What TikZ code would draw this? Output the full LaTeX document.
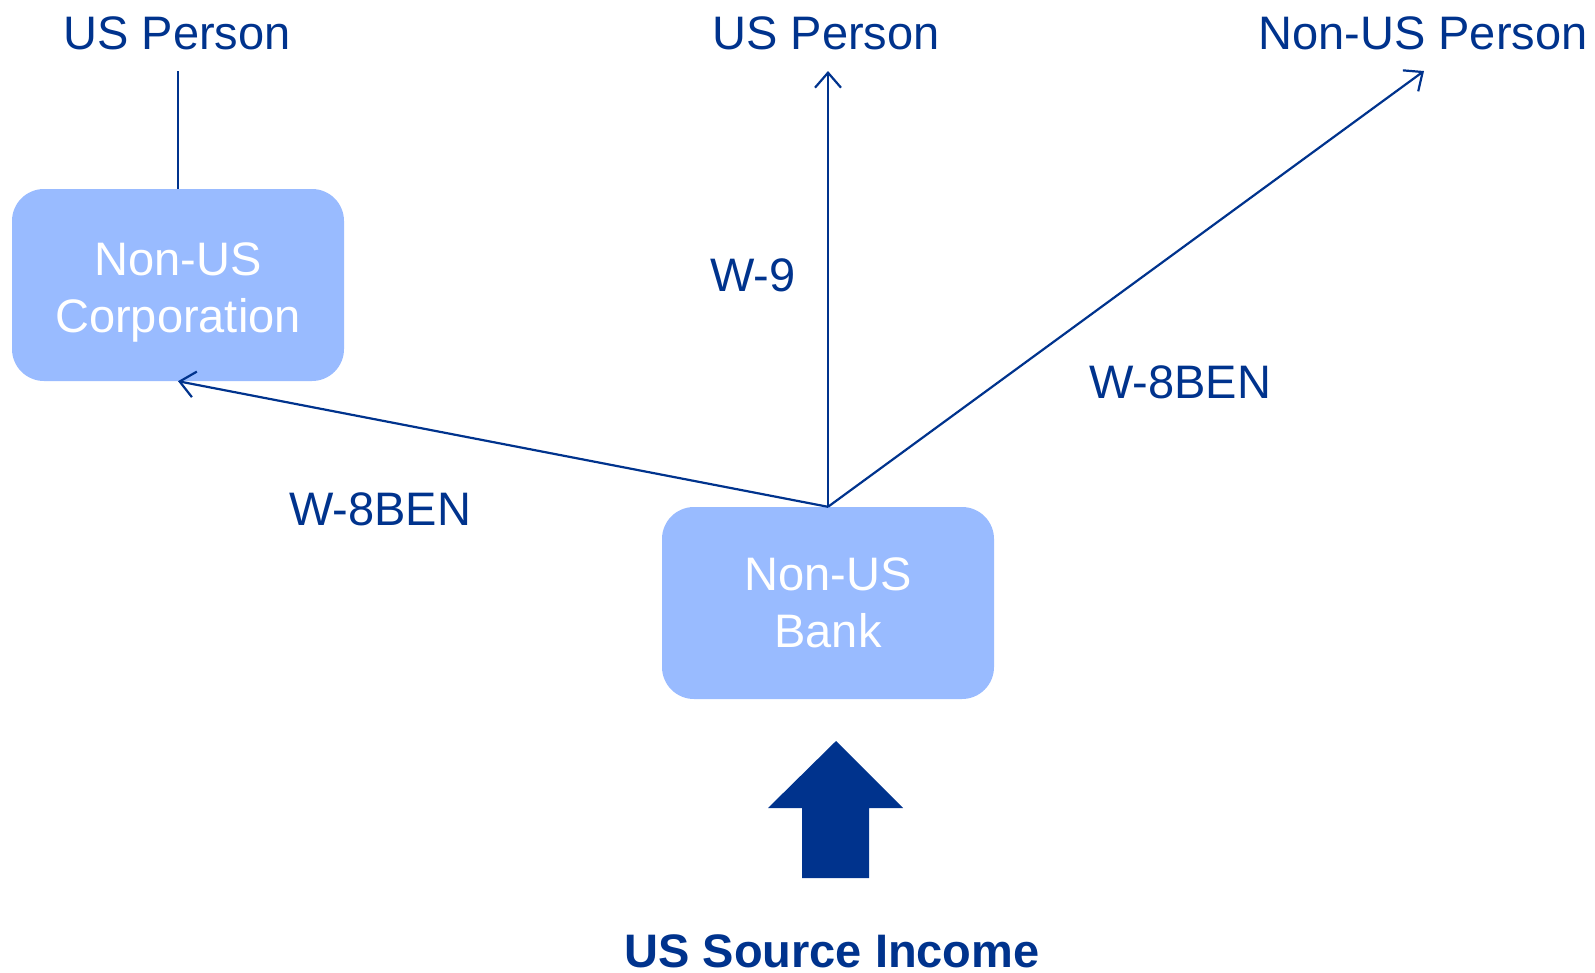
\documentclass[tikz,border=0pt]{standalone}
\usepackage{fontspec}
\setmainfont{Liberation Sans}
\usetikzlibrary{arrows.meta}
\definecolor{navy}{RGB}{0,51,141}
\definecolor{boxblue}{RGB}{153,187,255}
\begin{document}
\begin{tikzpicture}[x=1pt,y=-1pt,
  lbl/.style={text=navy,font=\fontsize{47}{57}\selectfont,inner sep=0pt},
  entity/.style={fill=boxblue,rounded corners=32pt,minimum width=332pt,minimum height=192pt,
     text=white,align=center,font=\fontsize{47}{57}\selectfont,inner sep=0pt},
  boxtxt/.style={text=white,align=center,font=\fontsize{47}{57}\selectfont,inner sep=0pt},
  conn/.style={draw=navy,line width=2.2pt},
  arr/.style={conn,-{Straight Barb[length=15pt,width=26pt]}}]
\useasboundingbox (0,0) rectangle (1595,972);
% labels
\node[lbl] (usp1) at (177,33) {US Person};
\node[lbl] (usp2) at (826,33) {US Person};
\node[lbl] (nusp) at (1423,33) {Non-US Person};
\node[lbl] (w9) at (753,275) {W-9};
\node[lbl] (w8r) at (1180,382) {W-8BEN};
\node[lbl] (w8l) at (380,509) {W-8BEN};
% boxes
\node[entity] (corp) at (178,285) {};
\node[boxtxt] (corptxt) at ([yshift=-7pt]corp.center) {Non-US\\Corporation};
\node[entity] (bank) at (828,603) {Non-US\\Bank};
% endpoints
\coordinate (e1) at (178,71);
\coordinate (e2) at (828,71);
\coordinate (e3) at (1424,71);
% connectors
\draw[conn] (corp.north) -- (e1);
\draw[arr] (bank.north) -- (e2);
\draw[arr] (bank.north) -- (e3);
\draw[arr] (bank.north) -- (corp.south);
% big arrow
\fill[navy] (836,741) -- (903,808) -- (869,808) -- (869,878) -- (802,878) -- (802,808) -- (768,808) -- cycle;
\node[lbl,font=\fontsize{47}{57}\selectfont\bfseries] (income) at (832,951) {US Source Income};
\end{tikzpicture}
\end{document}
